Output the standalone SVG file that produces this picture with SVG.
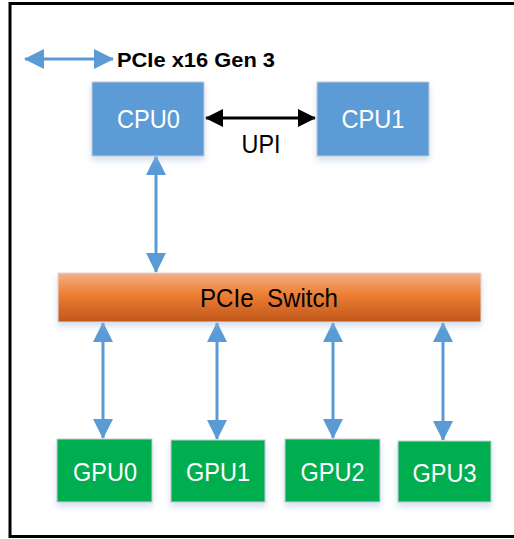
<svg xmlns="http://www.w3.org/2000/svg" width="514" height="539" viewBox="0 0 514 539">
  <defs>
    <linearGradient id="switchFill" x1="0" y1="0" x2="0" y2="1">
      <stop offset="0" stop-color="#f4b185"/>
      <stop offset="0.45" stop-color="#ec7d34"/>
      <stop offset="1" stop-color="#c0571a"/>
    </linearGradient>
    <filter id="shade" x="-20%" y="-20%" width="140%" height="160%">
      <feDropShadow dx="0" dy="4" stdDeviation="3" flood-color="#9db7dc" flood-opacity="0.45"/>
    </filter>
    <marker id="blueHead" viewBox="0 0 20 20" markerWidth="20" markerHeight="20" refX="19" refY="10" orient="auto-start-reverse" markerUnits="userSpaceOnUse">
      <path d="M0,0 L20,10 L0,20 Z" fill="#5b9bd5"/>
    </marker>
    <marker id="blackHead" viewBox="0 0 18 18" markerWidth="18" markerHeight="18" refX="17" refY="9" orient="auto-start-reverse" markerUnits="userSpaceOnUse">
      <path d="M0,0 L18,9 L0,18 Z" fill="#000000"/>
    </marker>
  </defs>
  <style>
    .frame { fill: #ffffff; stroke: #000000; stroke-width: 3; }
    .cpu { fill: #5b9bd5; stroke: #c6ccd4; stroke-width: 1; filter: url(#shade); }
    .gpu { fill: #00ae50; stroke: #c6ccd4; stroke-width: 1; filter: url(#shade); }
    .switch { fill: url(#switchFill); stroke: #d6dbe2; stroke-width: 1; filter: url(#shade); }
    .label { font-family: "Liberation Sans", Arial, sans-serif; font-size: 25px; text-anchor: middle; }
    .light { fill: #ffffff; }
    .dark { fill: #000000; }
    .pcie { stroke: #5b9bd5; stroke-width: 3; fill: none; marker-start: url(#blueHead); marker-end: url(#blueHead); }
    .upi { stroke: #000000; stroke-width: 3; fill: none; marker-start: url(#blackHead); marker-end: url(#blackHead); }
  </style>

  <!-- outer frame -->
  <rect class="frame" x="10" y="3.5" width="520" height="533"/>

  <!-- legend -->
  <g id="legend">
    <line class="pcie" x1="25" y1="59" x2="113" y2="59"/>
    <text x="117" y="66.5" font-family="'Liberation Sans', Arial, sans-serif" font-size="21" font-weight="bold" textLength="158" lengthAdjust="spacingAndGlyphs">PCIe x16 Gen 3</text>
  </g>

  <!-- connectors -->
  <g id="connectors">
    <line class="upi" x1="206" y1="118" x2="315" y2="118"/>
    <text class="label dark" x="261" y="153" textLength="39" lengthAdjust="spacingAndGlyphs">UPI</text>
    <line class="pcie" x1="156" y1="156" x2="156" y2="272"/>
    <line class="pcie" x1="103" y1="323" x2="103" y2="438"/>
    <line class="pcie" x1="217" y1="323" x2="217" y2="439"/>
    <line class="pcie" x1="333" y1="323" x2="333" y2="438"/>
    <line class="pcie" x1="443" y1="323" x2="443" y2="440"/>
  </g>

  <g id="cpu0">
    <rect class="cpu" x="92" y="82" width="112" height="74"/>
    <text class="label light" x="148.5" y="128" textLength="63" lengthAdjust="spacingAndGlyphs">CPU0</text>
  </g>
  <g id="cpu1">
    <rect class="cpu" x="317" y="82" width="112" height="74"/>
    <text class="label light" x="373" y="128" textLength="63" lengthAdjust="spacingAndGlyphs">CPU1</text>
  </g>

  <g id="pcie-switch">
    <rect class="switch" x="58" y="273" width="423" height="49"/>
    <text class="label dark" x="269" y="307" textLength="138" lengthAdjust="spacingAndGlyphs" xml:space="preserve">PCIe  Switch</text>
  </g>

  <g id="gpu0">
    <rect class="gpu" x="57" y="439" width="95" height="63"/>
    <text class="label light" x="105" y="481" textLength="64" lengthAdjust="spacingAndGlyphs">GPU0</text>
  </g>
  <g id="gpu1">
    <rect class="gpu" x="171" y="440" width="94" height="62"/>
    <text class="label light" x="218" y="481" textLength="64" lengthAdjust="spacingAndGlyphs">GPU1</text>
  </g>
  <g id="gpu2">
    <rect class="gpu" x="285" y="439" width="95" height="63"/>
    <text class="label light" x="332.5" y="481" textLength="64" lengthAdjust="spacingAndGlyphs">GPU2</text>
  </g>
  <g id="gpu3">
    <rect class="gpu" x="398" y="441" width="93" height="61"/>
    <text class="label light" x="444.5" y="482" textLength="64" lengthAdjust="spacingAndGlyphs">GPU3</text>
  </g>
</svg>
